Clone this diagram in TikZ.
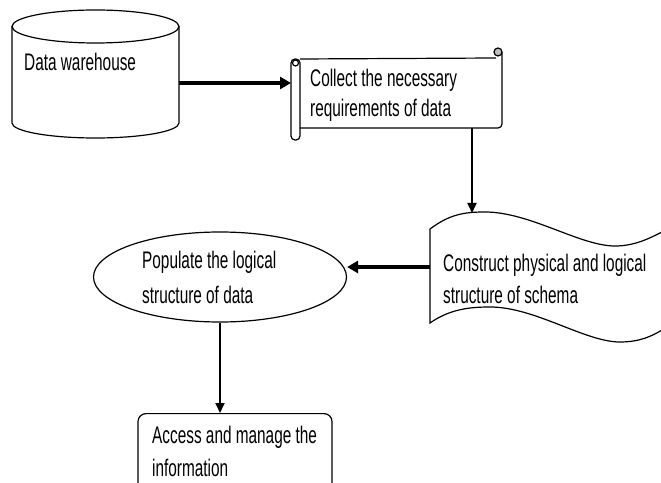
\documentclass[tikz,border=0pt]{standalone}
\usepackage{fontspec}
\setmainfont{Liberation Sans}[FakeStretch=0.64]
\usepackage{tikz}
\usetikzlibrary{arrows.meta,shapes.geometric}

\begin{document}
\begin{tikzpicture}[x=1pt,y=1pt,
  outline/.style={draw,line width=1.2pt},
  txt/.style={anchor=west,align=left,inner sep=0pt,font=\fontsize{24}{30}\selectfont},
  flow/.style={-{Triangle[length=10pt,width=9pt]},line width=1.8pt},
  bigflow/.style={-{Triangle[length=11pt,width=12pt]},line width=3.2pt}]
\useasboundingbox (0,0) rectangle (661,482);

% data warehouse
\draw[outline] (12,455.5) -- (12,359) arc (180:360:83.5pt and 15pt) -- (179,455.5);
\draw[outline,fill=white] (95.5,455.5) ellipse (83.5pt and 16.5pt);
\node[txt] (dw) at (24,420) {Data warehouse};
\coordinate (dwe) at (179,399);

% scroll
\draw[outline] (300,423) -- (496,424);
\draw[outline] (502,430) -- (502,358) arc (0:-90:4pt) -- (300,354);
\draw[outline,fill=gray!50] (498,430) circle (4pt);
\draw[outline,fill=white,rounded corners=4pt] (291,342) rectangle (300,423);
\draw[outline] (295.5,419) circle (3pt);
\node[txt] (coll) at (310,387) {Collect the necessary\\requirements of data};
\coordinate (scrw) at (291,399);
\coordinate (scrs) at (472,354);

% wave document
\draw[outline] (662,250) .. controls (650,244) and (635,236) .. (615,236)
  .. controls (580,236) and (530,270) .. (485,270)
  .. controls (465,270) and (450,268) .. (430,253) -- (430,159)
  .. controls (450,173) and (470,175) .. (490,175)
  .. controls (535,175) and (585,140) .. (620,140)
  .. controls (640,140) and (652,146) .. (662,152);
\node[txt] (cons) at (443,203) {Construct physical and logical\\[2pt]structure of schema};
\coordinate (wavt) at (472,269);
\coordinate (wavw) at (430,215);

% populate
\node[outline,ellipse,minimum width=253pt,minimum height=90pt,inner sep=0pt] (pop) at (220,205) {};
\node[txt] (poptxt) at (142,204.5) {Populate the logical\\[5pt]structure of data};

% access
\node[outline,rounded corners=8pt,minimum width=194pt,minimum height=82pt,anchor=north] (acc) at (235,69) {};
\node[txt] (acctxt) at (152,31) {Access and manage the\\[3pt]information};

\path (dwe) edge[bigflow] (scrw)
	(scrs) edge[flow] (wavt)
	(wavw) edge[bigflow] (wavw -| pop.east)
	(pop.south) edge[flow] (pop.south |- acc.north);
\end{tikzpicture}
\end{document}
